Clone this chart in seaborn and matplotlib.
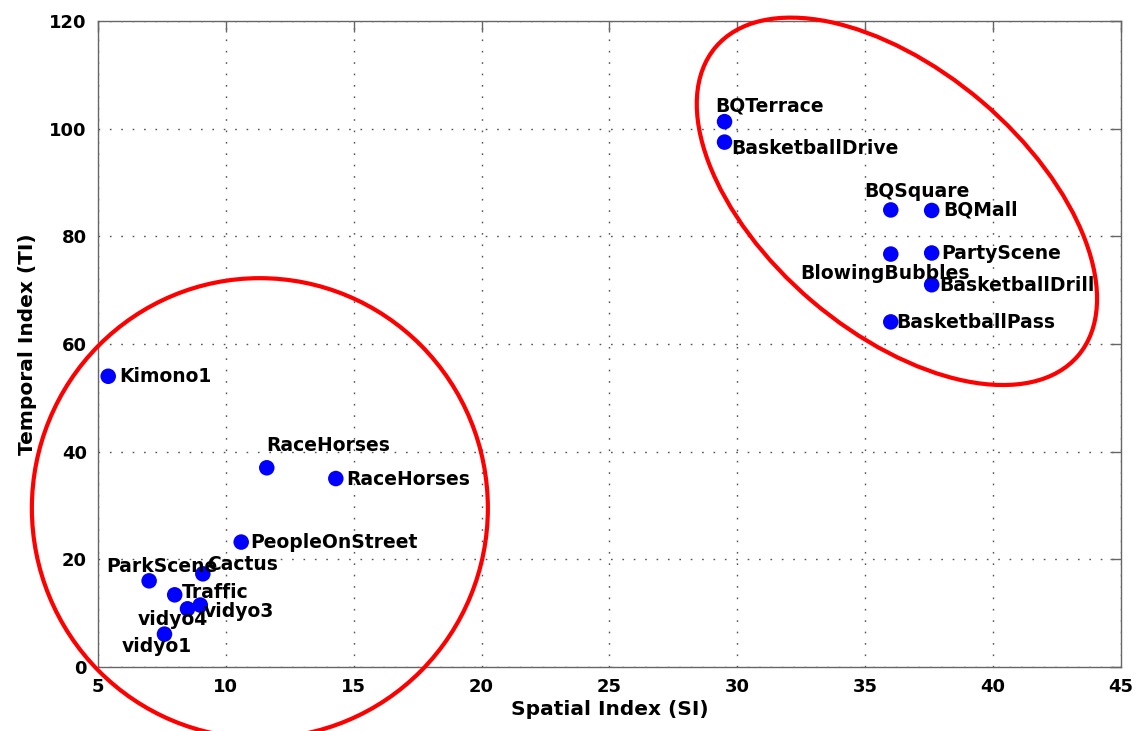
import numpy as np
import pandas as pd
import matplotlib
matplotlib.use('Agg')
import matplotlib.pyplot as plt
import matplotlib.transforms as mtransforms
from matplotlib.patches import Ellipse
import seaborn as sns

# Datos (SI, TI) de cada secuencia
names = ['Kimono1', 'RaceHorses', 'RaceHorses', 'PeopleOnStreet', 'ParkScene', 'Cactus',
         'Traffic', 'vidyo3', 'vidyo4', 'vidyo1',
         'BQTerrace', 'BasketballDrive', 'BQSquare', 'BQMall', 'BlowingBubbles',
         'PartyScene', 'BasketballDrill', 'BasketballPass']
si = [5.4, 11.6, 14.3, 10.6, 7.0, 9.1, 8.0, 9.0, 8.5, 7.6,
      29.5, 29.5, 36.0, 37.6, 36.0, 37.6, 37.6, 36.0]
ti = [54.0, 37.0, 35.0, 23.2, 16.0, 17.3, 13.4, 11.5, 10.8, 6.1,
      101.3, 97.5, 84.9, 84.8, 76.7, 76.9, 71.0, 64.1]

# desplazamiento de cada etiqueta (pixeles)
offsets = [(11, 0), (-1, 22), (10, -1), (9, 0), (-43, 14), (4, 9),
           (7, 2), (3, -6), (-50, -11), (-43, -12),
           (-9, 16), (7, -6), (-27, 18), (12, 0), (-91, -19),
           (10, -1), (8, -1), (5, -1)]

df = pd.DataFrame({'name': names, 'SI': si, 'TI': ti})

sns.set_style('white')
plt.rcParams['font.family'] = ['DejaVu Sans']
plt.rcParams['text.color'] = 'black'
plt.rcParams['axes.labelcolor'] = 'black'
plt.rcParams['xtick.color'] = '#666'
plt.rcParams['ytick.color'] = '#666'
plt.rcParams['xtick.labelcolor'] = 'black'
plt.rcParams['ytick.labelcolor'] = 'black'

fig = plt.figure(figsize=(11.38, 7.31), dpi=100)
ax = fig.add_axes([0.0861, 0.0876, 0.8989, 0.8837])

sns.scatterplot(data=df, x='SI', y='TI', color='#0000ff', s=125, edgecolor='none', ax=ax, zorder=3)

for n, x, y, (dx, dy) in zip(names, si, ti, offsets):
    ax.annotate(n, (x, y), xytext=(dx, dy), textcoords='offset pixels',
                ha='left', va='center', fontsize=13.5, fontweight='bold', zorder=4)

ax.set_xlim(5, 45)
ax.set_ylim(0, 120)
ax.set_xticks(np.arange(5, 46, 5))
ax.set_yticks(np.arange(0, 121, 20))
ax.grid(True, linestyle=(0, (1.2, 7)), color='#555', linewidth=1.0)
ax.tick_params(direction='in', length=8, width=1, top=True, right=True,
               labelsize=13, pad=8)
for lab in ax.get_xticklabels() + ax.get_yticklabels():
    lab.set_fontweight('bold')
for sp in ax.spines.values():
    sp.set_color('#666')
    sp.set_linewidth(1.0)

ax.set_xlabel('Spatial Index (SI)', fontsize=14.5, fontweight='bold', labelpad=3)
ax.set_ylabel('Temporal Index (TI)', fontsize=14.5, fontweight='bold', labelpad=9)

# elipses que agrupan las secuencias (tamaño en pixeles)
clusters = [((11.33, 29.5), 456, 460, 0), ((36.24, 86.5), 476, 262, -40.4)]
for (cx, cy), w, h, ang in clusters:
    px, py = ax.transData.transform((cx, cy))
    e = Ellipse((0, 0), w, h, angle=ang, fill=False, edgecolor='#ff0000', linewidth=3,
                transform=mtransforms.Affine2D().translate(px, py), clip_on=False, zorder=5)
    fig.add_artist(e)

fig.savefig('out.png', dpi=100)
